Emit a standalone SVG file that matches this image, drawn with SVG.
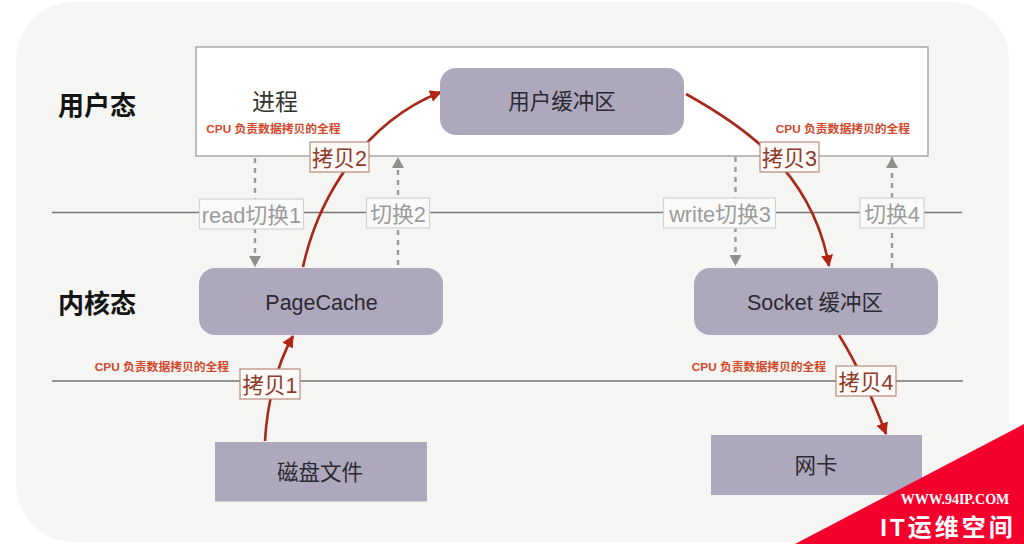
<svg xmlns="http://www.w3.org/2000/svg" width="1024" height="544" viewBox="0 0 1024 544">
<style>
text{font-family:"Liberation Sans","Noto Sans CJK SC",sans-serif;text-anchor:middle}
.node{fill:#aea8bc}
.nt{font-size:21.500px;fill:#2b2a33}
.head{font-size:26px;font-weight:bold;fill:#141414}
.note{font-size:11.800px;font-weight:bold;fill:#d2492b}
.lbg{fill:#fafafa;stroke:#d2d2d2;stroke-width:1.2}
.rbg{fill:#fdfaf8;stroke:#b98a7d;stroke-width:1.2}
.gt{font-size:21.800px;fill:#9b9b9b}
.rt{font-size:21.500px;fill:#8e3a2a}
.sep{stroke:#757575;stroke-width:1.5;fill:none}
.dash{stroke:#9a9a96;stroke-width:2.4;stroke-dasharray:5 5;fill:none}
.red{stroke:#a8291a;stroke-width:2.6;fill:none}
</style>
<defs>
<marker id="g" markerUnits="userSpaceOnUse" markerWidth="14" markerHeight="12" refX="11" refY="6" orient="auto"><path d="M0 0L11 6L0 12Z" fill="#8f8f8b"/></marker>
<marker id="r" markerUnits="userSpaceOnUse" markerWidth="14" markerHeight="12" refX="11" refY="6" orient="auto"><path d="M0 0L12 6L0 12Z" fill="#b32412"/></marker>
</defs>
<rect width="1024" height="544" fill="#fff"/>
<rect x="16" y="2" width="993" height="540" rx="58" fill="#f5f5f3"/>
<g id="user-space"><rect x="196" y="47" width="732" height="109" fill="#fff" stroke="#9c9c9c" stroke-width="1.3"/></g>
<g id="separators">
<line class="sep" x1="52" y1="212.500" x2="962" y2="212.500"/>
<line class="sep" x1="52" y1="381" x2="963" y2="381"/>
</g>
<g id="labels">
<text class="head" x="97" y="115">用户态</text>
<text class="head" x="97" y="313">内核态</text>
<text x="275" y="110" font-size="23" fill="#333">进程</text>
<text class="note" x="273.500" y="133">CPU 负责数据拷贝的全程</text>
<text class="note" x="843" y="133">CPU 负责数据拷贝的全程</text>
<text class="note" x="162" y="371">CPU 负责数据拷贝的全程</text>
<text class="note" x="759" y="371">CPU 负责数据拷贝的全程</text>
</g>
<g id="connectors">
<path class="dash" d="M255 158V267" marker-end="url(#g)"/>
<path class="dash" d="M398 265V157" marker-end="url(#g)"/>
<path class="dash" d="M735.500 157V266" marker-end="url(#g)"/>
<path class="dash" d="M892 268V157" marker-end="url(#g)"/>
<path class="red" d="M303 267C318 198 364 122 441 92" marker-end="url(#r)"/>
<path class="red" d="M686 94C740 124 812 170 829 266" marker-end="url(#r)"/>
<path class="red" d="M265 441C267 405 276 366 293 336" marker-end="url(#r)"/>
<path class="red" d="M839 335C858 366 872 396 886 434" marker-end="url(#r)"/>
</g>
<g id="user-buffer"><rect class="node" x="440" y="68" width="244" height="67" rx="16"/><text class="nt" x="562" y="109">用户缓冲区</text></g>
<g id="pagecache"><rect class="node" x="199" y="268" width="244" height="67" rx="16"/><text class="nt" x="321.500" y="310">PageCache</text></g>
<g id="socket-buffer"><rect class="node" x="694" y="268" width="244" height="67" rx="16"/><text class="nt" x="815" y="310">Socket 缓冲区</text></g>
<g id="disk-file"><rect class="node" x="215" y="442" width="212" height="59.500"/><text class="nt" x="320" y="480">磁盘文件</text></g>
<g id="nic"><rect class="node" x="711" y="435" width="211" height="60"/><text class="nt" x="816" y="473">网卡</text></g>
<g id="switch-1"><rect class="lbg" x="199.500" y="199" width="104" height="30"/><text class="gt" x="251.500" y="223">read切换1</text></g>
<g id="switch-2"><rect class="lbg" x="366.500" y="198" width="63" height="30"/><text class="gt" x="398" y="222">切换2</text></g>
<g id="switch-3"><rect class="lbg" x="663.500" y="198" width="112" height="30"/><text class="gt" x="720" y="222">write切换3</text></g>
<g id="switch-4"><rect class="lbg" x="860" y="198" width="64" height="30"/><text class="gt" x="892" y="222">切换4</text></g>
<g id="copy-1"><rect class="rbg" x="240" y="369" width="60" height="30"/><text class="rt" x="270" y="393">拷贝1</text></g>
<g id="copy-2"><rect class="rbg" x="310" y="142" width="59" height="30"/><text class="rt" x="339.500" y="166">拷贝2</text></g>
<g id="copy-3"><rect class="rbg" x="760" y="142" width="59" height="30"/><text class="rt" x="789.500" y="166">拷贝3</text></g>
<g id="copy-4"><rect class="rbg" x="836" y="366" width="60" height="30"/><text class="rt" x="866" y="390">拷贝4</text></g>
<g id="watermark">
<path d="M1024 424V544H795Z" fill="#f5002d"/>
<text x="955" y="504" font-size="14" font-weight="bold" fill="#fff" style="font-family:'Liberation Serif','Noto Sans CJK SC',serif">WWW.94IP.COM</text>
<text x="948" y="536" font-size="24" font-weight="bold" fill="#fff" letter-spacing="3">IT运维空间</text>
</g>
</svg>
